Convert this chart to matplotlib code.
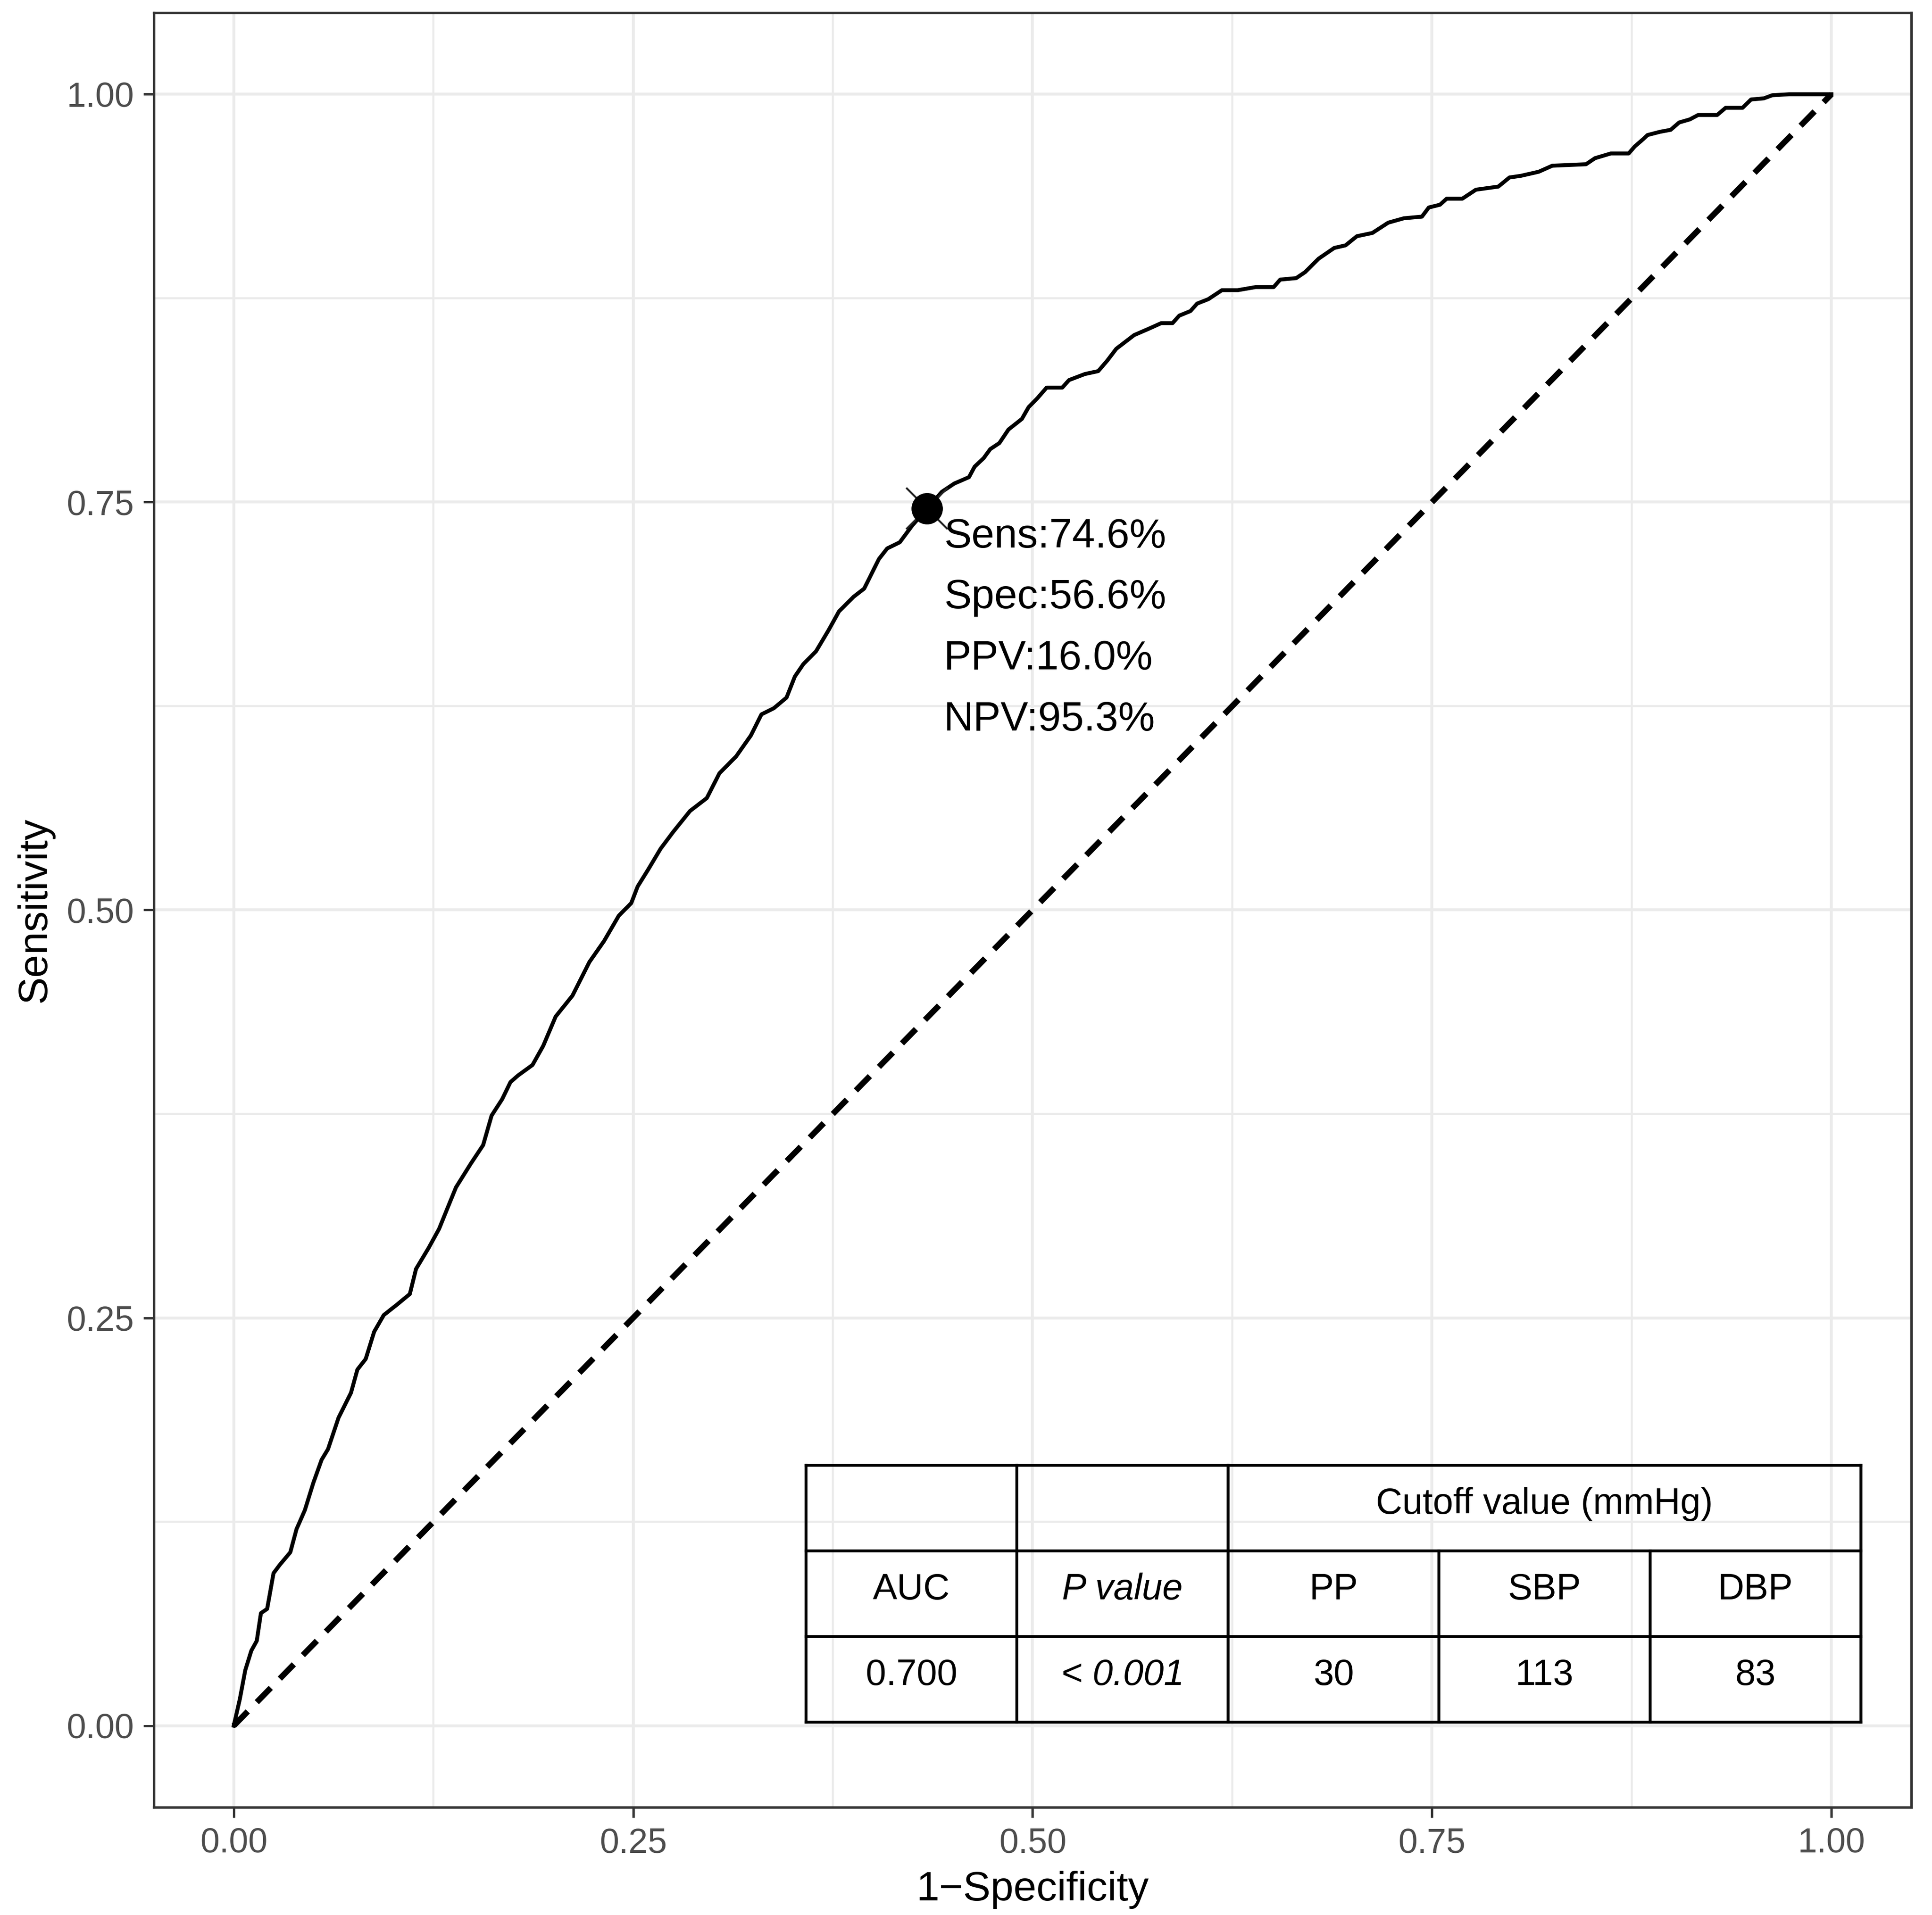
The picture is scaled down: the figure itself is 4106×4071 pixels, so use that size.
import matplotlib
matplotlib.use("Agg")
import matplotlib.pyplot as plt

plt.rcParams['font.family'] = ['Liberation Sans', 'DejaVu Sans']

# ===============================
# Data
# ===============================
fpr = [0, 0.0038, 0.0072, 0.011, 0.0144, 0.017, 0.0209, 0.0249, 0.0288, 0.0354,
       0.0393, 0.0445, 0.0498, 0.055, 0.059, 0.0656, 0.0734, 0.0774, 0.0826, 0.0879,
       0.0939, 0.1023, 0.1102, 0.1141, 0.122, 0.1285, 0.1338, 0.1391, 0.1483, 0.1561,
       0.1614, 0.168, 0.1732, 0.178, 0.187, 0.1937, 0.2015, 0.212, 0.2226, 0.2318,
       0.241, 0.2488, 0.2528, 0.2594, 0.2672, 0.275, 0.2856, 0.2961, 0.304, 0.3145,
       0.3237, 0.3303, 0.3381, 0.346, 0.3512, 0.3565, 0.3644, 0.3723, 0.3788, 0.388,
       0.3946, 0.4038, 0.409, 0.4169, 0.4247, 0.434, 0.4432, 0.451, 0.4602, 0.4637,
       0.4694, 0.4735, 0.4792, 0.4849, 0.4933, 0.4975, 0.5031, 0.5088, 0.5186, 0.5228,
       0.5327, 0.5411, 0.5468, 0.5524, 0.5636, 0.5721, 0.5805, 0.5876, 0.5918, 0.5988,
       0.603, 0.61, 0.6185, 0.6283, 0.6396, 0.6509, 0.655, 0.665, 0.6706, 0.679,
       0.6888, 0.6959, 0.703, 0.7127, 0.7226, 0.7324, 0.7437, 0.748, 0.755, 0.7592,
       0.769, 0.7775, 0.7915, 0.7985, 0.8056, 0.8168, 0.8253, 0.8464, 0.852, 0.8619,
       0.8731, 0.8769, 0.8822, 0.8849, 0.8928, 0.8994, 0.9047, 0.9114, 0.9166, 0.9285,
       0.9338, 0.9444, 0.9497, 0.9577, 0.963, 0.9735, 1.0]
tpr = [0, 0.0163, 0.034, 0.046, 0.052, 0.069, 0.0716, 0.0935, 0.0986, 0.1063,
       0.1205, 0.1321, 0.1488, 0.163, 0.1695, 0.1888, 0.2041, 0.2183, 0.2248, 0.2415,
       0.2517, 0.2582, 0.2646, 0.280, 0.2929, 0.3045, 0.3173, 0.330, 0.3444, 0.3559,
       0.374, 0.384, 0.3945, 0.3986, 0.405, 0.4167, 0.4347, 0.4475, 0.4681, 0.481,
       0.4965, 0.5042, 0.5144, 0.5248, 0.5376, 0.5478, 0.5607, 0.5686, 0.5838, 0.5942,
       0.607, 0.6199, 0.6237, 0.6302, 0.6431, 0.6507, 0.6585, 0.6715, 0.683, 0.692,
       0.697, 0.7151, 0.7216, 0.7254, 0.7357, 0.746, 0.7563, 0.7614, 0.7653, 0.7717,
       0.777, 0.7825, 0.7862, 0.7945, 0.801, 0.8082, 0.8138, 0.8202, 0.8202, 0.8248,
       0.8285, 0.8303, 0.8368, 0.844, 0.8524, 0.856, 0.8597, 0.8597, 0.8643, 0.8671,
       0.8717, 0.8744, 0.8799, 0.8799, 0.8818, 0.8818, 0.8864, 0.8873, 0.891, 0.8992,
       0.9058, 0.9074, 0.913, 0.915, 0.9213, 0.924, 0.925, 0.9306, 0.9323, 0.936,
       0.936, 0.9415, 0.9434, 0.949, 0.95, 0.9525, 0.9562, 0.9571, 0.9608, 0.9637,
       0.9637, 0.968, 0.9725, 0.975, 0.977, 0.9782, 0.9827, 0.9846, 0.9873, 0.9873,
       0.9917, 0.9917, 0.9968, 0.9975, 0.9994, 1.0, 1.0]

ref_x = [0, 1]
ref_y = [0, 1]

# best cutoff point
cut_fpr = 0.434
cut_tpr = 0.746
cut_labels = ["Sens:74.6%", "Spec:56.6%", "PPV:16.0%", "NPV:95.3%"]

tick_vals = [0, 0.25, 0.5, 0.75, 1.0]
tick_labels = ["0.00", "0.25", "0.50", "0.75", "1.00"]
minor_vals = [0.125, 0.375, 0.625, 0.875]

# summary table
tbl_header = "Cutoff value (mmHg)"
tbl_cols = ["AUC", "P value", "PP", "SBP", "DBP"]
tbl_vals = ["0.700", "< 0.001", "30", "113", "83"]
tbl_italic = [False, True, False, False, False]

# ===============================
# Figure
# ===============================
fig = plt.figure(figsize=(41.06, 40.71), dpi=100)
ax = fig.add_axes([0.07964, 0.05625, 0.90964, 0.93712])

ax.set_xlim(-0.05, 1.05)
ax.set_ylim(-0.05, 1.05)
ax.set_xticks(tick_vals)
ax.set_xticklabels(tick_labels)
ax.set_yticks(tick_vals)
ax.set_yticklabels(tick_labels)
ax.set_xticks(minor_vals, minor=True)
ax.set_yticks(minor_vals, minor=True)

ax.grid(True, which='major', color='#EBEBEB', linewidth=4.5)
ax.grid(True, which='minor', color='#EBEBEB', linewidth=3.2)
ax.set_axisbelow(True)

ax.tick_params(which='major', length=16, width=3.6, color='#333333',
               labelsize=53, labelcolor='#4D4D4D', pad=14.5)
ax.tick_params(which='minor', length=0)
for sp in ax.spines.values():
    sp.set_linewidth(3.8)
    sp.set_color('#333333')

# diagonal reference
ax.plot(ref_x, ref_y, color='black', linewidth=9, linestyle=(0, (3.4, 2.2)),
        dash_capstyle='butt')

# ROC curve
ax.plot(fpr, tpr, color='black', linewidth=6, solid_joinstyle='round')

# cutoff point
ax.plot([cut_fpr], [cut_tpr], marker='x', markersize=64, markeredgewidth=3,
        color='#222222', linestyle='none')
ax.plot([cut_fpr], [cut_tpr], marker='o', markersize=47, color='black',
        linestyle='none')

txt_x = cut_fpr + 0.0104
txt_y0 = cut_tpr - 0.0237
txt_step = 0.0374
for i, lab in enumerate(cut_labels):
    ax.text(txt_x, txt_y0 - i * txt_step, lab, fontsize=63, color='black',
            ha='left', va='baseline')

# ===============================
# Table
# ===============================
t_left, t_right = 0.3582, 1.0185
t_bottom, t_top = 0.0023, 0.1597
ncol = len(tbl_cols)
cw = (t_right - t_left) / ncol
rh = (t_top - t_bottom) / 3
lw_t = 4.5

for k in range(4):
    y = t_bottom + k * rh
    ax.plot([t_left, t_right], [y, y], color='black', linewidth=lw_t,
            solid_capstyle='projecting')
for j in range(ncol + 1):
    x = t_left + j * cw
    y_end = t_top if j in (0, 1, 2, ncol) else t_bottom + 2 * rh
    ax.plot([x, x], [t_bottom, y_end], color='black', linewidth=lw_t,
            solid_capstyle='projecting')

base_off = 0.43 * rh
ax.text(t_left + 3.5 * cw, t_bottom + 2 * rh + base_off, tbl_header,
        fontsize=56, ha='center', va='baseline')
for j in range(ncol):
    cx = t_left + (j + 0.5) * cw
    style = 'italic' if tbl_italic[j] else 'normal'
    ax.text(cx, t_bottom + rh + base_off, tbl_cols[j], fontsize=56,
            ha='center', va='baseline', style=style)
    ax.text(cx, t_bottom + base_off, tbl_vals[j], fontsize=56,
            ha='center', va='baseline', style=style)

ax.set_xlabel("1\u2212Specificity", fontsize=63)
ax.set_ylabel("Sensitivity", fontsize=63)
ax.xaxis.set_label_coords(0.5, -0.0354)
ax.yaxis.set_label_coords(-0.0568, 0.5)

fig.savefig("out.png", dpi=100)
